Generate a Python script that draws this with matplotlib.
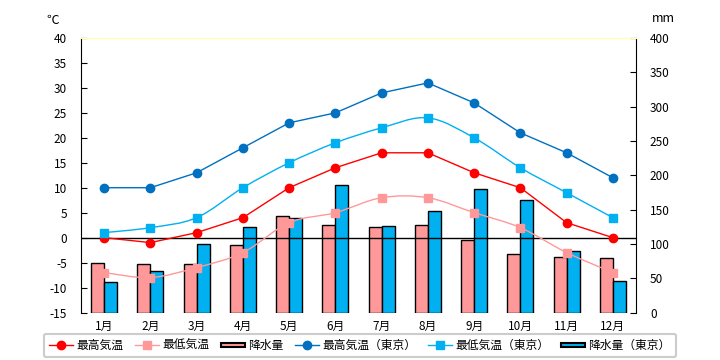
import matplotlib
matplotlib.use('Agg')
import matplotlib.pyplot as plt
from matplotlib.path import Path
from matplotlib.patches import PathPatch, Patch, Rectangle
from matplotlib.lines import Line2D
from matplotlib.legend_handler import HandlerPatch
import numpy as np

plt.rcParams['font.family'] = ['Noto Sans CJK JP', 'DejaVu Sans']
plt.rcParams['axes.unicode_minus'] = False

months = ['1月', '2月', '3月', '4月', '5月', '6月', '7月', '8月', '9月', '10月', '11月', '12月']
t_max = [0, -1, 1, 4, 10, 14, 17, 17, 13, 10, 3, 0]
t_min = [-7, -8, -6, -3, 3, 5, 8, 8, 5, 2, -3, -7]
rain = [72, 70, 70, 98, 141, 128, 124, 128, 105, 85, 81, 79]
tokyo_max = [10, 10, 13, 18, 23, 25, 29, 31, 27, 21, 17, 12]
tokyo_min = [1, 2, 4, 10, 15, 19, 22, 24, 20, 14, 9, 4]
tokyo_rain = [44, 61, 100, 124, 137, 186, 126, 148, 180, 164, 90, 46]

RED = '#FF0000'
PINK = '#FF9999'
DBLUE = '#0070C0'
LBLUE = '#00B0F0'


def smooth_path(xs, ys):
    # bezier through the points (like excel "smoothed line")
    p = np.column_stack([xs, ys]).astype(float)
    n = len(p)
    verts = [p[0]]
    codes = [Path.MOVETO]
    for i in range(n - 1):
        p0 = p[i - 1] if i > 0 else p[i]
        p3 = p[i + 2] if i + 2 < n else p[i + 1]
        c1 = p[i] + (p[i + 1] - p0) / 6
        c2 = p[i + 1] - (p3 - p[i]) / 6
        verts += [c1, c2, p[i + 1]]
        codes += [Path.CURVE4] * 3
    return Path(verts, codes)


def flat_bar(legend, orig_handle, xdescent, ydescent, width, height, fontsize):
    return Rectangle((-xdescent, -ydescent + height * 0.3), width, height * 0.4)


fig = plt.figure(figsize=(7.2, 3.6), dpi=100)
ax = fig.add_axes([81 / 720, 1 - 312.5 / 360, 555 / 720, 274.5 / 360])
ax2 = ax.twinx()
ax.set_zorder(2)
ax.patch.set_visible(False)
ax2.patch.set_facecolor('#FFFFCC')

x = np.arange(len(months))
w = 0.28
ax2.bar(x - w / 2, rain, w, color=PINK, edgecolor='black', linewidth=1)
ax2.bar(x + w / 2, tokyo_rain, w, color=LBLUE, edgecolor='black', linewidth=1)
ax2.set_ylim(0, 400)
ax2.set_yticks(range(0, 401, 50))

ax.axhline(0, color='black', lw=1, zorder=1)

ax.plot(x, t_max, color=RED, lw=1, marker='o', ms=6, zorder=3)
ax.add_patch(PathPatch(smooth_path(x, t_min), fill=False, edgecolor=PINK, lw=1, zorder=3))
ax.plot(x, t_min, ls='none', color=PINK, marker='s', ms=6, zorder=3)
ax.plot(x, tokyo_max, color=DBLUE, lw=1, marker='o', ms=6, zorder=3)
ax.add_patch(PathPatch(smooth_path(x, tokyo_min), fill=False, edgecolor=LBLUE, lw=1, zorder=3))
ax.plot(x, tokyo_min, ls='none', color=LBLUE, marker='s', ms=6, zorder=3)

ax.set_xlim(-0.5, len(months) - 0.5)
ax.set_ylim(-15, 40)
ax.set_yticks(range(-15, 41, 5))
ax.set_xticks(x)
ax.set_xticklabels(months)

for a in (ax, ax2):
    a.spines['bottom'].set_visible(False)
    a.spines['top'].set_color('#FFFFB0')
ax.spines['right'].set_visible(False)
ax2.spines['left'].set_visible(False)
ax.spines['left'].set_color('black')
ax2.spines['right'].set_color('black')

ax.tick_params(axis='x', length=0, pad=5, labelsize=8.5)
ax.tick_params(axis='y', direction='in', length=4, pad=10, labelsize=8.5)
ax2.tick_params(axis='y', direction='in', length=4, pad=10, labelsize=8.5)

fig.text(53 / 720, 1 - 20 / 360, '℃', ha='center', va='center', fontsize=9)
fig.text(663 / 720, 1 - 19 / 360, 'mm', ha='center', va='center', fontsize=9)

handles = [
    Line2D([], [], color=RED, lw=1, marker='o', ms=6),
    Line2D([], [], color=PINK, lw=1, marker='s', ms=6),
    Patch(facecolor=PINK, edgecolor='black', linewidth=1.5),
    Line2D([], [], color=DBLUE, lw=1, marker='o', ms=6),
    Line2D([], [], color=LBLUE, lw=1, marker='s', ms=6),
    Patch(facecolor=LBLUE, edgecolor='black', linewidth=1.5),
]
labels = ['最高気温', '最低気温', '降水量', '最高気温（東京）', '最低気温（東京）', '降水量（東京）']
leg = fig.legend(handles, labels, loc='center', bbox_to_anchor=(360 / 720, 1 - 345.5 / 360),
                 ncol=6, fontsize=8.5, frameon=True, fancybox=True, handlelength=2.0,
                 handletextpad=0.3, columnspacing=1.0, borderpad=0.45,
                 handler_map={Patch: HandlerPatch(patch_func=flat_bar)})
leg.get_frame().set_edgecolor('#C0C0C0')
leg.get_frame().set_linewidth(1.5)

fig.savefig('out.png', dpi=100)
